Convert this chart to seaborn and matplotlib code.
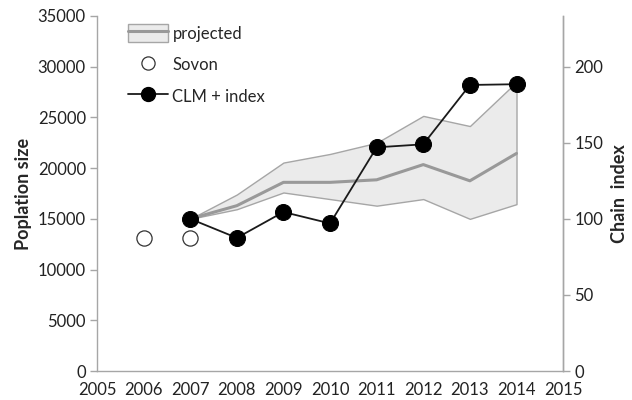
import matplotlib
matplotlib.use("Agg")
import matplotlib.pyplot as plt
import seaborn as sns
import pandas as pd
from matplotlib.patches import Patch
from matplotlib.lines import Line2D

years_proj = [2007, 2008, 2009, 2010, 2011, 2012, 2013, 2014]
proj_median = [15000, 16300, 18600, 18600, 18850, 20350, 18750, 21450]
proj_upper = [15000, 17400, 20550, 21400, 22500, 25150, 24150, 28500]
proj_lower = [15000, 15950, 17600, 16950, 16300, 16950, 15000, 16450]

years_sovon = [2006, 2007]
sovon = [13100, 13150]

years_clm = [2007, 2008, 2009, 2010, 2011, 2012, 2013, 2014]
clm_index = [100, 87.5, 104.5, 97, 147, 149, 188, 188.5]

sns.set_theme(style="white")
plt.rcParams['font.family'] = ['Lato', 'DejaVu Sans']

fig = plt.figure(figsize=(6.32, 4.0), dpi=100)
ax = fig.add_axes([0.1535, 0.0725, 0.7375, 0.8875])
ax2 = ax.twinx()

axis_color = '#a6a6a6'
ax.fill_between(years_proj, proj_lower, proj_upper, facecolor='#ebebeb',
                edgecolor='#a6a6a6', linewidth=1.0, zorder=1)
df_proj = pd.DataFrame({'year': years_proj, 'median': proj_median})
sns.lineplot(data=df_proj, x='year', y='median', ax=ax, color='#999999',
             linewidth=2.2, zorder=2)

df_sovon = pd.DataFrame({'year': years_sovon, 'pop': sovon})
sns.scatterplot(data=df_sovon, x='year', y='pop', ax=ax, s=120, facecolor='white',
                edgecolor='#333333', linewidth=0.9, zorder=3)

df_clm = pd.DataFrame({'year': years_clm, 'index': clm_index})
sns.lineplot(data=df_clm, x='year', y='index', ax=ax2, color='#1a1a1a',
             linewidth=1.3, marker='o', markersize=11.5, markerfacecolor='black',
             markeredgecolor='black', zorder=4)

ax.set_xlim(2005, 2015)
ax.set_ylim(0, 35000)
ax2.set_ylim(0, 35000 / 150)
ax.set_xticks(range(2005, 2016))
ax.set_yticks(range(0, 35001, 5000))
ax2.set_yticks([0, 50, 100, 150, 200])

ax.set_xlabel('')
ax.set_ylabel('Poplation size', fontsize=13, fontweight='bold', labelpad=4)
ax2.set_ylabel('Chain  index', fontsize=13, fontweight='bold', labelpad=6)

for a in (ax, ax2):
    a.spines['top'].set_visible(False)
    for s in ('left', 'right', 'bottom'):
        a.spines[s].set_color(axis_color)
        a.spines[s].set_linewidth(1.0)
    a.tick_params(colors=axis_color, labelcolor='#222222', labelsize=12,
                  length=5, width=1.0, direction='out')
ax.tick_params(axis='x', pad=3)
ax.tick_params(axis='y', left=True, pad=3)
ax2.tick_params(axis='y', right=True, pad=3)
ax2.spines['left'].set_visible(False)
ax2.spines['bottom'].set_visible(False)

h_proj = (Patch(facecolor='#ebebeb', edgecolor='#a6a6a6', linewidth=1.0),
          Line2D([], [], color='#999999', linewidth=2.2))
h_sovon = Line2D([], [], linestyle='none', marker='o', markersize=9.5,
                 markerfacecolor='white', markeredgecolor='#333333', markeredgewidth=0.9)
h_clm = Line2D([], [], color='#1a1a1a', linewidth=1.3, marker='o', markersize=10,
               markerfacecolor='black', markeredgecolor='black')
leg = ax2.legend([h_proj, h_sovon, h_clm], ['projected', 'Sovon', 'CLM + index'],
                 loc='upper left', bbox_to_anchor=(0.035, 1.02), frameon=False,
                 fontsize=12, handlelength=2.4, handleheight=1.3,
                 handletextpad=0.25, labelspacing=0.8)

fig.savefig('out.png', dpi=100)
